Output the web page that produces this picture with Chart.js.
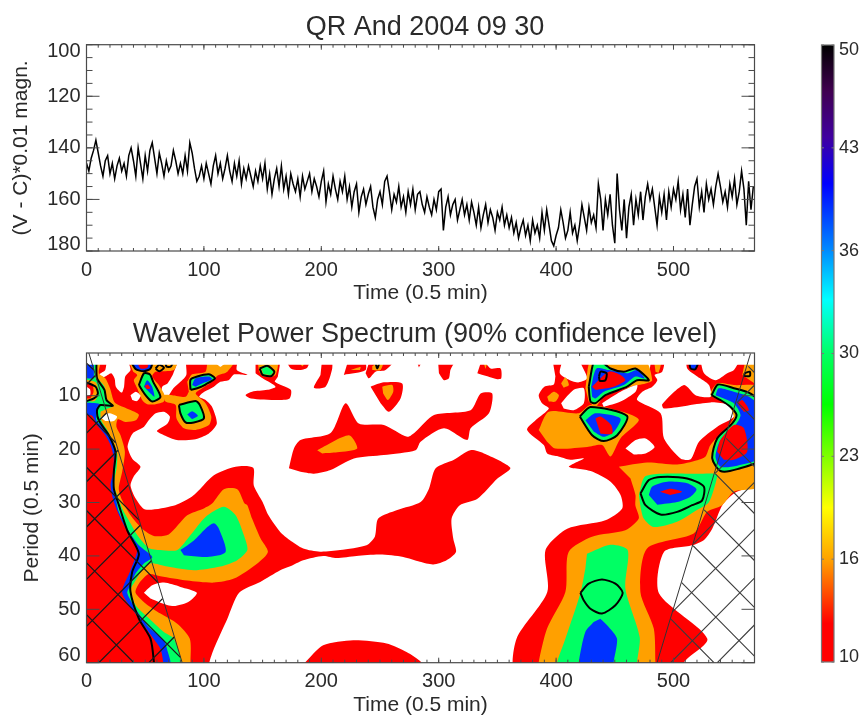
<!DOCTYPE html>
<html>
<head>
<meta charset="utf-8">
<title>QR And 2004 09 30</title>
<script src="https://cdn.jsdelivr.net/npm/chart.js@4/dist/chart.umd.min.js"></script>
<style>
  html, body { margin: 0; padding: 0; background: #fff; overflow: hidden; }
  canvas { position: absolute; }
  #lightChart { left: 0; top: 0; }
  #waveletChart { left: 0; top: 310px; }
  #colorbarChart { left: 800px; top: 0; }
</style>
</head>
<body>
<canvas id="lightChart" width="850" height="310"></canvas>
<canvas id="waveletChart" width="850" height="406"></canvas>
<canvas id="colorbarChart" width="64" height="716"></canvas>
<script>
// light curve, one reading every 2 time units
const timeStep = 2;
const magnitude = [
  146,149,144,141,137,142,147,151,145,143,
  150,146,152,147,144,149,146,151,143,140,
  145,151,140,146,152,143,149,141,138,144,
  150,142,146,151,145,149,147,141,145,150,
  146,150,143,149,138,142,148,153,151,147,
  152,146,150,154,147,143,150,146,152,148,
  143,149,153,146,151,145,154,148,152,147,
  151,155,149,153,147,152,146,156,150,158,
  152,148,155,147,156,151,158,150,154,157,
  152,159,151,156,153,150,157,152,155,159,
  153,149,161,154,158,151,156,160,153,157,
  151,160,155,163,157,154,165,159,156,162,
  158,155,163,167,160,157,162,153,151,157,
  164,158,161,155,163,159,165,157,162,156,
  164,158,157,162,165,159,163,166,160,164,
  157,156,172,163,159,166,162,160,168,164,
  160,166,162,168,161,165,170,163,171,166,
  162,169,164,167,172,165,168,163,170,166,
  171,167,173,169,175,171,168,174,170,176,
  168,173,170,175,165,172,164,170,176,178,
  174,171,164,169,175,172,165,173,170,176,
  170,162,167,172,163,169,166,171,154,160,
  172,160,166,158,170,177,150,164,172,160,
  175,163,158,170,160,166,157,168,159,154,
  160,156,163,170,159,165,158,168,157,163,
  156,160,153,164,158,167,156,170,162,155,
  152,163,157,165,154,160,156,162,155,150,
  155,161,157,163,154,159,152,162,157,149,
  156,170,153,164,155
];
const timeTicks = [0, 100, 200, 300, 400, 500];
const magTicks = [100, 120, 140, 160, 180];
const periodTicks = [10, 20, 30, 40, 50, 60];
const colorbarTicks = [10, 16.667, 23.333, 30, 36.667, 43.333, 50];
const colorbarLabels = ["10", "16", "23", "30", "36", "43", "50"];
const colorbarValues = [10, 12.5, 16.6, 20, 23.3, 26.7, 30, 33.5, 37, 41, 44, 47, 50];
const colorbarColors = ["#ff0000", "#ff0000", "#ffa000", "#ffff00", "#80ff00", "#00ff00", "#00ff64",
  "#00ffff", "#0080ff", "#0000ff", "#4000a0", "#400050", "#000000"];

// contours of the power spectrum, [time, period]
const redLeft = [[0,3],[16,3],[16,5.2],[11,6],[15,6.5],[21,5.8],[24,6.8],[25,8.3],[30,9.4],[32,8.3],[33,6.4],[37.5,5.2],[36,3],
  [77,3],[74,5.8],[69,7.7],[64.5,8.3],[64.5,9.9],[69,10.2],[74,8.6],[80,7.4],[85,6.1],[86,3],[128,3],[128,5.2],[137,6.1],[126,6],
  [121,7.1],[114,7.4],[108.5,8.3],[100,9.3],[96,10.2],[101.5,10.8],[107,12.1],[111,15.2],[104,17.1],[91.5,18.2],[77,18.3],[66,17.4],
  [60,16.6],[69,15.2],[71,13.9],[66,13],[59,13.3],[53,14.6],[49,15.8],[40,16.9],[37,18],[35,19.6],[39,21.8],[46,23.3],[40,25.2],
  [37.5,26.8],[42,29.3],[50,31.3],[74,30.6],[89,29],[97,27.4],[108.5,24.9],[127,23.3],[142,23.5],[142.5,26.8],[150,29.9],[155,32.4],
  [165,35.5],[173,37],[184.6,38.6],[199,39.2],[216,38.9],[238.5,38],[245.6,36.4],[248.5,33],[264.7,31.4],[284.6,29.9],[291.7,27.4],
  [297.4,23.6],[313,22],[327,20.2],[338.5,20.8],[361,23.5],[350,25.5],[333,29.3],[318,30.5],[311,33],[312.4,36.75],[314.7,39.25],
  [306.7,40.8],[295.4,41.6],[284,41.1],[269.8,40.2],[249.9,39.75],[230,40],[213,40.4],[201.6,40],[184.6,40.8],[173,42],[165,42.7],
  [148,44.9],[130,46.9],[120,51.75],[108.5,57.4],[104,60.5],[104,62],[0,62]];
const redMiddle = [[172.4,23.6],[176.7,19.9],[182.3,18.3],[207.9,17],[220.7,11.4],[232,15.2],[253.3,15.5],[273.2,17.7],[280.3,16.75],
  [296,13.6],[327.2,12.7],[335.7,9.6],[345.6,9.6],[342.8,13.3],[327.2,16.1],[324.3,18.3],[304.5,16.1],[284.6,18.6],[280.3,20.2],
  [253.3,21.1],[227.8,21.75],[207.9,23.9],[193.7,24.6],[182.3,24.25]];
const redBottom = [[186,60],[201.6,56.75],[227.2,55.8],[255.6,56.4],[272.6,58],[285.4,60],[285.4,62],[186,62]];
const redTop1 = [[144,3],[164,3],[163,6.4],[160.5,7.4],[174,8.9],[173,10.5],[162.5,10.8],[140,10.5],[135.5,9.9],[141,9.25],[154,8.9],[161,8.3],[150,6.75],[144,5.8]];
const redTop2 = [[169,3],[174,4.9],[181,5.2],[188,4.75],[191,3]];
const redTop3 = [[200.8,3],[208.4,3],[209.3,4.9],[203.6,8.3],[193.7,8.5],[199.3,6.1]];
const redTop4 = [[223.5,3],[236.3,3],[237.7,5.2],[219.2,6.1]];
const redTop5 = [[241.9,3],[263.3,3],[254.7,5.2],[246.2,5.5],[240.5,6.75],[237.7,5.8]];
const redTop6 = [[242,8.3],[253.3,7.5],[268.9,7.7],[267.5,10.5],[257.6,13],[250.5,11.4]];
const redTop7 = [[280.3,3],[286.9,3],[283.2,4.7]];
const redTop8 = [[299.3,3],[314.4,3],[310,5.2],[308.7,6.75],[304.5,7.1],[300.2,5.8]];
const redTop9 = [[337.1,3],[344.2,4.9],[352.7,4.9],[353.3,6.75],[350,6.9],[332.9,5.8]];
const redRight = [[396.7,3],[405.2,3],[403.2,5.8],[411.7,7.1],[419.4,7.5],[426.5,6.75],[420.8,3],[472,3],[479,5.5],[482,3],[491.9,3],
  [490.4,5.5],[483.9,6.1],[486.2,7.1],[482,8.3],[473.4,9.25],[469,10.8],[489,13.3],[491.9,18],[506,21.75],[514.6,21.9],[521.7,18.6],
  [537.3,15.8],[551.5,13.9],[546.4,11.75],[531.6,11.25],[491.9,12.4],[490.4,11.6],[508.9,8],[518.8,9.9],[531.6,10.2],[530.2,8],
  [520.3,6.4],[511.7,4.9],[511.7,3],[521.7,3],[526,5.8],[535.9,7.1],[545.8,5.8],[551.5,5.2],[558.6,3],[575,3],[575,25.5],[551.5,28.3],
  [541.6,30.5],[533,34.9],[526,37],[516,38],[491.9,39.25],[487.6,47],[528.8,55.5],[509,59.9],[509,62],[366.3,62],[366.3,55.5],
  [392.5,46.75],[391,38.9],[409.5,34.9],[442,33.3],[456.3,31.1],[454.9,28.6],[446.4,26.1],[429.4,24.1],[410.9,23.3],[423.6,21.75],
  [412.2,22],[400.8,21.3],[392.4,20.8],[389.5,19.25],[375.3,16.4],[382.5,14.6],[393.8,12.4],[388,11.4],[385.2,9.9],[390,8.3],[398,7.9],[399.4,6.4]];

const orangeLeft = [[0,3],[12,3],[10.5,5.8],[16,6.75],[20,8.6],[24,11.25],[33,12.25],[44.5,13.5],[42,14.6],[33,14.9],[26.7,14.4],[25.5,15.8],
  [29,17.4],[32.7,20.5],[30.4,24.25],[27.5,27.4],[30.4,29.6],[37.5,32.4],[47.4,34.9],[57.4,36.25],[70,36],[85.8,32.4],[100,31.1],[107,30.2],
  [117,27.5],[128.4,27.5],[134.7,30.2],[137,30.5],[141,33],[148.3,36.75],[154.5,39.25],[145.5,41.4],[125.6,44.25],[108.5,45],[85.8,44.6],
  [63,43.8],[53,43.4],[44.6,45.2],[41.8,46.9],[50.3,48.9],[63,50.8],[77.3,52.7],[88,55.5],[88.6,59.9],[88.6,62],[0,62]];
const orangeTop1 = [[34.7,3],[77.3,3],[74.4,5.2],[58.8,5.5],[56,6.4],[61.6,8],[66.5,9.9],[65.9,11.1],[58.8,11.6],[51.7,11.6],[47.4,10.8],[43.2,8.6],[40.3,7.1],[43.2,6.1],[39.8,5.5]];
const orangeTop2 = [[85.8,7.4],[90,6],[101.4,5.5],[104.3,3],[127,3],[120,5.5],[111.4,6.25],[107,7.4],[98.6,8.6],[93,9.6],[101.4,11.4],[106.3,13.9],
  [104.3,15.5],[93,16.4],[83,16.1],[76.7,14.25],[75.9,11.75],[67.3,11.1],[66,9.9],[73,9.9],[84.4,10.2],[87.2,9.25]];
const orangeTop3 = [[145.5,3],[162.5,3],[161,6.1],[151,6.4],[147,5.5]];
const orangeTop4 = [[179.5,3],[184,4.5],[187,3]];
const orangeMiddle = [[196.5,20.2],[223.5,17.4],[230.6,19.9],[213.6,20.6],[200.8,20.8]];
const orangeTop5 = [[224.9,5.2],[233.4,4.6],[232.9,5.2]];
const orangeTop6 = [[243.4,4.5],[253.3,3],[250.5,5.2],[243.4,5.2]];
const orangeTop7 = [[251.9,8.3],[260.4,8],[261.3,9.25],[256.7,10.8],[252.7,9.6]];
const orangeTop8 = [[337.1,3],[342,3],[339.9,5]];
const orangeRight1 = [[404.3,7.7],[408,6.6],[410.9,8],[406.5,8.5]];
const orangeRight2 = [[392.4,10.2],[398,9.25],[402.4,9.9],[399.4,11.1],[393.8,11.1]];
const orangeRight3 = [[483.2,3],[489.6,3],[487.5,5.6],[484.7,5.5]];
const orangeRing = [[425,8.6],[430.7,3],[474.7,3],[481.9,7.1],[476.2,7.7],[463.4,8.3],[440.6,10.2],[433.5,12.1],[427.8,11.1]];
const orangeBlob = [[385.2,16.4],[393.7,13],[419.3,13.3],[429.3,11.75],[460.5,13.3],[470.5,14.6],[454.8,18],[446.3,21.4],[439.2,19.25],[426.4,19.6],[399.4,19.9],[392.3,18.6]];
const orangeColumn = [[453.4,23.3],[477.6,22.5],[503.1,22.9],[520.2,22.1],[527.3,21.4],[531.5,19.25],[547.1,15.5],[551.4,13.9],[545.8,11.4],[531.5,9.9],
  [537.2,7.7],[551.4,8],[575,8.6],[575,26.75],[551.4,28],[541.5,30.5],[528.6,31.75],[517.2,35.8],[477.5,38.6],[471.8,46.75],[483.2,53.6],[484.6,59.9],
  [484.6,62],[385.1,62],[385.1,60],[392.3,53.6],[407.9,46.75],[410.7,39.25],[430.6,36.4],[459,35.2],[470.4,33],[467.5,30.5],[467.6,28.6],[463.4,25.5]];
const orangeCorner = [[558.6,6.1],[562.8,3],[575,3],[575,8.6]];
const orangeEdge = [[0,7],[8,7.5],[10,9.6],[7,11],[0,11]];

const whiteLeft = [[48.9,46.9],[56,45.5],[66,45],[80,45.8],[94,46.9],[87,48.6],[74.4,49.4],[63,48.75],[54.5,48]];
const whiteTop1 = [[37.5,9.9],[42,9.25],[46,10],[43,11],[39,10.8]];
const whiteTop2 = [[110,3.9],[114,3.4],[118,3.9],[114,4.6]];
const whiteIsland = [[12,14.1],[19,13.3],[26,13.9],[23.3,14.75],[16,14.75]];
const whiteEdge = [[0,8.3],[3,8.8],[3.2,9.8],[0,10]];
const whiteRight1 = [[404.3,11.4],[415,8.9],[423.6,8.6],[423.6,11.4],[415,12.7],[406.5,12.4]];
const whiteRight2 = [[439.2,11.4],[454.9,9.25],[469,8],[467.7,9.25],[454.9,11.1],[440.6,12.1]];
const whiteRight3 = [[459.1,19.9],[467.7,18.3],[476.2,18],[483.9,19.6],[476.2,20.8],[466.2,21]];

const greenLeft = [[0,3],[9,3],[8.5,6.4],[12,7.4],[15.3,8.3],[17,10.5],[22.7,11.9],[14.8,12.7],[12,13],[12.5,14.6],[17.6,16.4],[21.9,18.3],[26.1,20.8],
  [25.6,23.6],[23.3,26.75],[26.7,28.9],[30.4,31.1],[37.5,33.9],[43.2,36.1],[53,38.5],[63,38.9],[77.3,38.9],[88.6,36.1],[101.4,32.7],[117,30.8],[127,32.4],
  [134,36.1],[137,38.9],[128.4,40.8],[114,42],[91.5,42.7],[68.8,42],[54.5,41.4],[47.4,42.7],[41.8,44.6],[37.5,46.4],[41.8,49.25],[51.7,51.4],[65.9,54.25],
  [74.4,55.5],[81,59.9],[81,62],[0,62]];
const ringTop1 = [[44.6,8],[49,5.8],[54,6],[56.8,7.4],[63,10.2],[56,11.1],[50.3,9.9]];
const ringTop2 = [[36.6,3],[41.8,5],[49,5.4],[54.5,4.9],[56,3]];
const ringTop3 = [[58.8,4.9],[62,4.2],[66,4.75],[62,5.4]];
const ringTop4 = [[67.3,3],[74.4,3],[72,4.5],[68,4.5]];
const ringTop5 = [[88.6,8.9],[88.6,7],[94.3,6.4],[104.3,6],[109.4,6.75],[101.4,7.9],[94.3,8.6]];
const ringTop6 = [[78.7,11.75],[92.9,11],[96.6,11.75],[100,14.25],[91.5,15],[84.4,15],[80,13.3]];
const ringTop7 = [[147.5,4.9],[154,4.4],[160,5.5],[157.5,6.3],[150,6.1]];
const ringTop8 = [[245.4,3],[250,3],[247.6,4.9]];
const ringRight1 = [[427.8,8.3],[433.5,3],[446.3,4.9],[457.7,5.5],[467.6,4.9],[479,7.1],[469,7.1],[460.5,8.3],[442,9.9],[433.5,11.4],[429.3,11.1]];
const ringRight2 = [[420.2,13.9],[429.3,12.1],[460.5,13.8],[452,17.4],[440.6,18.5],[430.7,17.4]];
const ringRight3 = [[471.9,28.3],[479,25.8],[488.9,25.2],[511.6,25.5],[525.8,27],[524.4,29.6],[515.9,30.5],[503.1,31.75],[488.9,32.25],[476.1,30.5]];
const ringRight4 = [[532.4,9.9],[537.9,7.9],[551.4,8.6],[565.7,9.6],[575,11.75],[575,21.75],[554.3,23.75],[540,24.1],[533,21.75],[537.2,18],[550,15.2],[553.7,13.6],[548.6,12.1],[540,10.8]];
const ringRight5 = [[420.7,46.9],[427.8,45.2],[439.1,44.4],[450.5,45.2],[456.7,46.9],[450.5,49.25],[439.1,50.8],[429.2,49.9],[423.5,48.3]];
const ringRight6 = [[513,3],[521.6,3],[518.8,5],[514.6,4.9]];
const ringRight7 = [[436.5,6.4],[437.9,5.5],[443,5.8],[442,7.1],[437.3,7.2]];
const ringRight8 = [[560.5,5.8],[565,5.5],[565,6.3],[560.5,6.3]];
const greenTop3 = [[149,4.9],[154,4.6],[159,5.4],[157,6.1],[150.5,6]];
const greenMiddle = [[470.5,28.6],[475.3,25.2],[488.9,24.6],[520.2,24.6],[535.8,24.6],[537.2,25.2],[530,30],[520,31.4],[503,33.6],[483.2,34.6],[474.6,33],[472,31]];
const greenColumn = [[426.3,39.6],[446.2,37.9],[461,38.9],[459,46.1],[471.2,55.2],[469,59.9],[469,62],[400.8,62],[400.8,60],[407.9,55.5],[420.7,47],[424.9,42.4]];

const blueLeft = [[0,11.25],[12,11.6],[9,12.7],[8.5,14.6],[13.4,15.8],[19,17.7],[24,19.9],[24.1,23.6],[22.4,26.75],[24.7,28.9],[27.6,31.75],[34.7,34.9],[44.6,38],[56,40.2],
  [48.9,41.4],[41.8,43.3],[37.5,45.5],[34.7,46.9],[41.8,49.9],[53,53.3],[65.9,55.8],[69.3,58],[71.6,59.9],[71.6,62],[0,62]];
const blueBlob = [[80,38.9],[91.5,37.1],[101.4,34.9],[108.5,33.9],[112.8,34.9],[118.5,39.25],[102.8,40.2],[83,39.9]];
const blueCorner = [[0,3],[5.7,3],[6.3,6.1],[5.7,6.75],[0,6.75]];
const blueTop1 = [[48.9,8.3],[51.7,7.1],[55.9,8.3],[57.9,10.2],[54.5,9.6]];
const blueTop5 = [[90,8],[92.9,6.75],[104.3,6.4],[107,6.9],[98.6,7.7],[92.9,8.3]];
const blueTop6 = [[85.8,13.5],[90,12.9],[94.9,13.75],[90,14.4]];
const blueRight1 = [[429.8,8.3],[434.4,4.9],[444.9,5.2],[460.5,5.8],[469,5.2],[475.4,6.75],[467.6,6.4],[457.7,8],[440.7,9.25],[433.5,10.5],[430.7,10.2]];
const blueRight2 = [[425,14.6],[433.5,13.3],[454.8,14.25],[449.2,16.75],[440.6,17.7],[432.2,16.75]];
const blueRight3 = [[479,28.6],[481.9,27],[494.7,26.1],[511.6,26.4],[519.6,27.5],[514.5,28.9],[503.1,29.9],[486.2,30.4]];
const blueRight4 = [[535.8,9.9],[538.6,8.6],[551.4,9.25],[564.3,10.2],[575,12.4],[575,21.4],[554.3,23.1],[540,23.3],[535.8,21.4],[540,18.3],[552.8,15.5],[557.1,13.6],[551.4,11.4],[542.9,10.5]];
const blueColumn = [[437.7,51.75],[444.8,53.3],[451.9,55.5],[449,60],[449,62],[419.2,62],[419.2,60],[424.9,54.25],[432,52.4]];

const peakLeft = [[0,13.6],[4.8,13.75],[9,15.5],[16,17.4],[20.5,19.25],[23.3,21.75],[22.4,24.6],[20.5,26.75],[23.3,29.9],[30.4,33.6],[37.5,36.4],[43.2,38.9],[37.5,42.7],[30.4,46.9],
  [41.8,50.8],[56,55.2],[63,57.4],[65.3,59.9],[65.3,62],[0,62]];
const peakEdge = [[0,7.7],[5,8],[6,9.3],[3,10.5],[0,10.5]];
const peakTop1 = [[49.5,8.2],[52,7.9],[54.5,8.6],[51.5,8.8]];
const peakTop2 = [[41.8,3],[46,4.9],[52,4.7],[53,3]];
const peakRight1 = [[430.7,8.3],[444.9,5.5],[454.9,6.1],[459.1,7.1],[449.2,8.3],[433.5,8.9]];
const peakRight2 = [[433.5,14.25],[437.9,13.9],[446.9,15.5],[447.8,17.1],[437.9,17.1]];
const peakRight3 = [[488.4,28],[497.5,27.4],[507.4,28],[497.5,28.6]];
const peakRight4 = [[537.2,20.5],[540,18.3],[551.4,15.5],[560,16.1],[562.8,20.5],[551.4,22],[542.9,22]];
const peakRight5 = [[554.3,11.4],[558.6,10.8],[564.3,12.7],[560,13]];

const contourLeft = [[8.5,3],[9,6.75],[15.3,8.9],[17,10.8],[22.4,11.9],[12,11.75],[9,12.7],[10.5,14.6],[19,17.4],[24.7,20.5],[23.3,24.25],[23.3,27.4],[27.6,30.5],[34.7,35.2],
  [44.6,39.6],[38.9,43],[37.5,46.75],[44.6,51.75],[54.5,55.5],[57.4,59.9],[57.4,62]];
const contourEdge = [[0,7.5],[7.7,8.3],[9.7,9.6],[6.3,10.5],[0,11]];

const maskTop = [[0,2],[569,2],[569,4.2],[0,4.2]];

// cone of influence and its cross hatching: x1, y1, x2, y2
const coiLeft = [[2,2],[81.5,60]];
const coiRight = [[486,60],[565.6,2.1]];
const hatchLeft = [[0,7.9,7.6,6.2],[0,17,17.2,13.2],[0,26.1,26.8,20.2],[0,34.6,35.8,26.7],[0,44.4,46,34.2],[0,53.2,55.3,40.9],[10.5,60,64.8,48],[53.1,60,74.7,55.2],
  [0,3.9,6.3,5.2],[0,13.3,24.9,18.8],[0,23.4,44.8,33.3],[0,31.5,60.9,45],[0,41.3,80,59],[0,51,40.3,60]];
const hatchRight = [[499.6,50.4,570,34.8],[497.6,60,570,43.9],[537.3,60,570,52.7],[517.2,37.7,570,26],[535.6,24.5,570,16.9],[554,11.3,570,7.8],
  [497.6,51.8,534.5,60],[507,45,570,59],[516.7,38.1,570,49.9],[526.1,31.4,570,41.1],[535.5,24.6,570,32.3],[545,18,570,23.5],[554.3,11.2,570,14.7],[563.7,4.5,570,5.9]];

const RED = "#ff0000", ORANGE = "#ffa000", GREEN = "#00ff64", BLUE = "#0032ff", WHITE = "#ffffff";
const FONT = "'Liberation Sans', sans-serif";
const INK = "#2a2a2a";

const toPoints = (pts) => pts.map((p) => ({ x: p[0], y: p[1] }));

function poly(pts, color, tension) {
  return { data: toPoints(pts), showLine: true, fill: "shape", backgroundColor: color, borderWidth: 0, pointRadius: 0, tension: tension === undefined ? 0.25 : tension };
}
function path(pts, width) {
  return { data: toPoints(pts), showLine: true, fill: false, borderColor: "#000000", borderWidth: width || 2, pointRadius: 0, tension: 0.25 };
}
function ring(pts) {
  return path(pts.concat([pts[0]]));
}
function hatch(lines, color, width) {
  const pts = [];
  lines.forEach((l) => {
    pts.push({ x: l[0], y: l[1] }, { x: l[2], y: l[3] }, { x: NaN, y: NaN });
  });
  return { data: pts, showLine: true, fill: false, borderColor: color, borderWidth: width, pointRadius: 0, spanGaps: false };
}

// bottom layer first, reversed below because chart.js paints the first dataset last
const layers = [
  ...[redLeft, redMiddle, redBottom, redTop1, redTop2, redTop3, redTop4, redTop5, redTop6, redTop7, redTop8, redTop9, redRight].map((p) => poly(p, RED)),
  ...[orangeLeft, orangeTop1, orangeTop2, orangeTop3, orangeTop4, orangeMiddle, orangeTop5, orangeTop6, orangeTop7, orangeTop8, orangeRight1, orangeRight2,
    orangeRight3, orangeRing, orangeBlob, orangeColumn, orangeCorner].map((p) => poly(p, ORANGE)),
  ...[whiteLeft, whiteTop1, whiteTop2, whiteRight1, whiteRight2, whiteRight3].map((p) => poly(p, WHITE)),
  ...[greenLeft, ringTop1, ringTop5, ringTop6, greenTop3, ringRight1, ringRight2, greenMiddle, ringRight4, greenColumn].map((p) => poly(p, GREEN)),
  ...[blueLeft, blueBlob, blueCorner, blueTop1, ringTop2, blueTop5, blueTop6, blueRight1, blueRight2, blueRight3, blueRight4, blueColumn, ringRight6].map((p) => poly(p, BLUE)),
  poly(orangeEdge, ORANGE),
  ...[peakLeft, peakEdge, peakTop1, peakTop2, peakRight1, peakRight2, peakRight3, peakRight4, peakRight5].map((p) => poly(p, RED)),
  ...[whiteIsland, whiteEdge].map((p) => poly(p, WHITE)),
  path(contourLeft),
  path(contourEdge),
  ...[ringTop1, ringTop2, ringTop3, ringTop4, ringTop5, ringTop6, ringTop7, ringTop8, ringRight1, ringRight2, ringRight3, ringRight4, ringRight5, ringRight6, ringRight7, ringRight8].map(ring),
  poly(maskTop, WHITE, 0),
  hatch(hatchLeft, "#1a1a1a", 1.3),
  hatch(hatchRight, "#3c3c3c", 1.1),
  hatch([coiLeft[0].concat(coiLeft[1]), coiRight[0].concat(coiRight[1])], "#333333", 1)
];

// box round the plot, inward ticks on all four sides, y labels kept inside the box ends
const axesBox = {
  id: "axesBox",
  afterDraw(chart, args, opts) {
    const { ctx, chartArea: a } = chart;
    const x = chart.scales.x, y = chart.scales.y;
    ctx.save();
    ctx.strokeStyle = opts.color || "#4a4a4a";
    ctx.lineWidth = 1.2;
    ctx.strokeRect(a.left, a.top, a.right - a.left, a.bottom - a.top);
    ctx.lineWidth = 1;
    const hTick = (v, len) => {
      const p = y.getPixelForValue(v);
      ctx.beginPath();
      ctx.moveTo(a.left, p); ctx.lineTo(a.left + len, p);
      ctx.moveTo(a.right, p); ctx.lineTo(a.right - len, p);
      ctx.stroke();
    };
    const vTick = (v, len) => {
      const p = x.getPixelForValue(v);
      ctx.beginPath();
      ctx.moveTo(p, a.bottom); ctx.lineTo(p, a.bottom - len);
      ctx.moveTo(p, a.top); ctx.lineTo(p, a.top + len);
      ctx.stroke();
    };
    if (opts.xMinorStep) {
      for (let v = 0; v <= x.max; v += opts.xMinorStep) vTick(v, 3);
      x.ticks.forEach((t) => vTick(t.value, 5));
    }
    if (opts.yMinorStep) {
      for (let v = y.min; v <= y.max; v += opts.yMinorStep) hTick(v, 6);
    }
    y.ticks.forEach((t) => hTick(t.value, opts.yTickLength));

    ctx.fillStyle = INK;
    ctx.font = opts.labelSize + "px " + FONT;
    ctx.textAlign = opts.labelSide === "right" ? "left" : "right";
    ctx.textBaseline = "middle";
    const lx = opts.labelSide === "right" ? a.right + 5 : a.left - 6;
    y.ticks.forEach((t, i) => {
      let p = y.getPixelForValue(t.value);
      if (Math.abs(p - a.top) < 2) p += opts.labelShift;
      if (Math.abs(p - a.bottom) < 2) p -= opts.labelShift;
      ctx.fillText(opts.labels ? opts.labels[i] : String(t.value), lx, p);
    });
    ctx.restore();
  }
};

function xAxis(fitHeight, titleGap) {
  return {
    type: "linear", min: 0, max: 569,
    afterBuildTicks: (s) => { s.ticks = timeTicks.map((v) => ({ value: v })); },
    afterFit: (s) => { s.height = fitHeight; },
    grid: { display: false, tickLength: 0 },
    border: { display: false },
    ticks: { font: { family: FONT, size: 20 }, color: INK, padding: 7, maxRotation: 0, autoSkip: false },
    title: { display: true, text: "Time (0.5 min)", color: INK, font: { family: FONT, size: 21 }, padding: { top: 0, bottom: titleGap } }
  };
}
function yAxis(min, max, ticks, titleText, titleGap) {
  return {
    type: "linear", min: min, max: max, reverse: true,
    afterBuildTicks: (s) => { s.ticks = ticks.map((v) => ({ value: v })); },
    afterFit: (s) => { s.width = 86.5; },
    grid: { display: false },
    border: { display: false },
    ticks: { display: false },
    title: { display: true, text: titleText, color: INK, font: { family: FONT, size: 21 }, padding: { top: titleGap, bottom: 0 } }
  };
}
// empty axis that reserves the room right of the plot, so titles centre on the whole canvas
const rightGap = {
  type: "linear", position: "right",
  afterFit: (s) => { s.width = 95.5; },
  grid: { display: false },
  border: { display: false },
  ticks: { display: false }
};

Chart.defaults.animation = false;

new Chart(document.getElementById("lightChart"), {
  type: "line",
  data: {
    datasets: [{
      data: magnitude.map((v, i) => ({ x: i * timeStep, y: v })),
      borderColor: "#000000", borderWidth: 1.5, pointRadius: 0, fill: false
    }]
  },
  plugins: [axesBox],
  options: {
    responsive: false,
    events: [],
    scales: { x: xAxis(59, 4), y: yAxis(100, 180, magTicks, "(V - C)*0.01 magn.", 9), gap: rightGap },
    plugins: {
      legend: { display: false },
      tooltip: { enabled: false },
      title: { display: true, text: "QR And 2004 09 30", color: INK, font: { family: FONT, size: 27, weight: "normal", lineHeight: 1 }, padding: { top: 14, bottom: 3.7 } },
      axesBox: { xMinorStep: 10, yMinorStep: 5, yTickLength: 13, labelSize: 20, labelSide: "left", labelShift: 7 }
    }
  }
});

new Chart(document.getElementById("waveletChart"), {
  type: "scatter",
  data: { datasets: layers.slice().reverse() },
  plugins: [axesBox],
  options: {
    responsive: false,
    events: [],
    scales: { x: xAxis(53.3, -2), y: yAxis(2, 60, periodTicks, "Period (0.5 min)", 20), gap: rightGap },
    plugins: {
      legend: { display: false },
      tooltip: { enabled: false },
      title: { display: true, text: "Wavelet Power Spectrum (90% confidence level)", color: INK, font: { family: FONT, size: 27, weight: "normal", lineHeight: 1 }, padding: { top: 11, bottom: 5 } },
      axesBox: { xMinorStep: 10, yTickLength: 13, labelSize: 20, labelSide: "left", labelShift: 7 }
    }
  }
});

new Chart(document.getElementById("colorbarChart"), {
  type: "bar",
  data: {
    labels: ["power"],
    datasets: [{
      data: [[10, 50]],
      barPercentage: 1,
      categoryPercentage: 1,
      backgroundColor(context) {
        const area = context.chart.chartArea;
        if (!area) return RED;
        const scale = context.chart.scales.y;
        const g = context.chart.ctx.createLinearGradient(0, scale.getPixelForValue(10), 0, scale.getPixelForValue(50));
        colorbarValues.forEach((v, i) => g.addColorStop((v - 10) / 40, colorbarColors[i]));
        return g;
      }
    }]
  },
  plugins: [axesBox],
  options: {
    responsive: false,
    layout: { padding: { left: 21.5, top: 45, bottom: 54 } },
    events: [],
    scales: {
      x: { display: false },
      y: {
        type: "linear", min: 10, max: 50, position: "right",
        afterBuildTicks: (s) => { s.ticks = colorbarTicks.map((v) => ({ value: v })); },
        afterFit: (s) => { s.width = 30; },
        grid: { display: false },
        border: { display: false },
        ticks: { display: false }
      }
    },
    plugins: {
      legend: { display: false },
      tooltip: { enabled: false },
      axesBox: { yTickLength: 2.5, labelSize: 18, labelSide: "right", labelShift: 5, labels: colorbarLabels, color: "#777777" }
    }
  }
});
</script>
</body>
</html>
